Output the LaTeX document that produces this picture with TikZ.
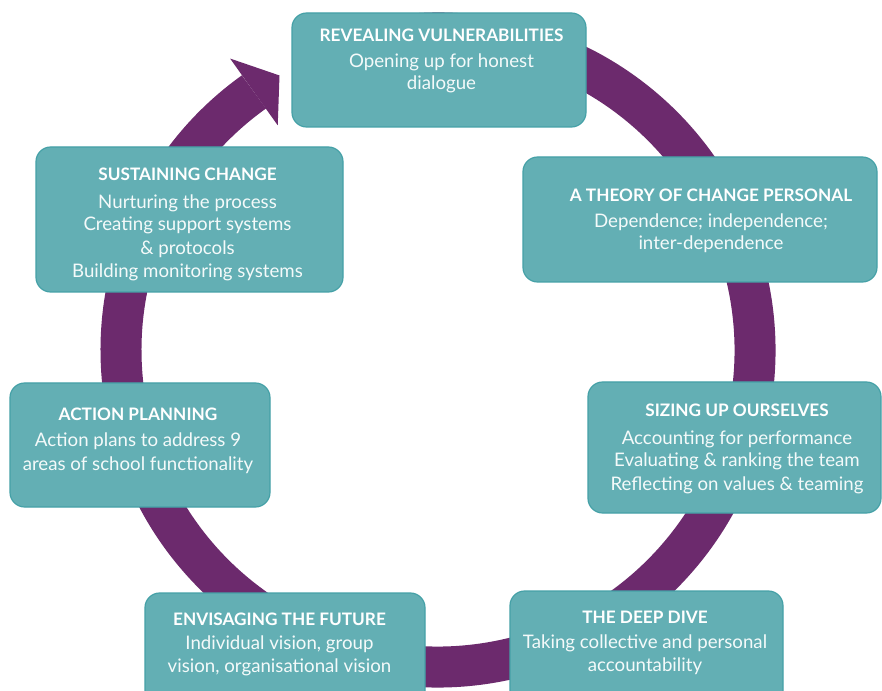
\documentclass[tikz,border=0pt]{standalone}
\usepackage{fontspec}
\setmainfont{Lato}
\usetikzlibrary{calc}
\definecolor{ringc}{HTML}{6C2A6D}
\definecolor{boxfill}{HTML}{63AFB4}
\definecolor{boxline}{HTML}{45A1A7}
\definecolor{txtc}{HTML}{F4FAFA}
\begin{document}
\begin{tikzpicture}[x=0.75pt,y=0.75pt,
  ring/.style={draw=ringc,line width=30.75pt},
  stagebox/.style 2 args={draw=boxline,fill=boxfill,line width=0.9pt,rounded corners=11pt,
    minimum width=#1*0.75pt,minimum height=#2*0.75pt,inner sep=0pt,outer sep=0pt},
  ttl/.style={font=\bfseries\fontsize{12.9}{15}\selectfont,text=white,anchor=base,inner sep=0pt},
  bdy/.style={font=\fontsize{14}{16}\selectfont,text=txtc,anchor=base,inner sep=0pt}]
\useasboundingbox (0,0) rectangle (882,690);
\clip (0,0) rectangle (882,690);
\fill[white] (0,0) rectangle (882,690);
% cycle ring
\coordinate (c) at (438,340);
\draw[ring] ([shift={(100:317)}]c) arc[start angle=100,end angle=-234.5,radius=317];
\fill[ringc] ([shift={(125.5:276)}]c) -- ([shift={(125.5:358)}]c) -- ([shift={(120:317)}]c) -- cycle;
% boxes
\node[stagebox={294}{114}] (b1) at (439,620) {};
\node[stagebox={354}{125}] (b2) at (700,470.5) {};
\node[stagebox={293}{131}] (b3) at (734.5,242.5) {};
\node[stagebox={273}{119}] (b4) at (646.5,39.5) {};
\node[stagebox={280}{117}] (b5) at (285,38.5) {};
\node[stagebox={260}{124}] (b6) at (140,245) {};
\node[stagebox={307}{145}] (b7) at (189.5,470.5) {};
% texts
\node[ttl] (t1) at (441.5,648.3) {REVEALING VULNERABILITIES};
\node[bdy] (t1a) at (441.5,622) {Opening up for honest};
\node[bdy] (t1b) at (441.5,600) {dialogue};
\node[ttl] (t2) at (711,488.3) {A THEORY OF CHANGE PERSONAL};
\node[bdy] (t2a) at (711,462.3) {Dependence; independence;};
\node[bdy] (t2b) at (711,440) {inter-dependence};
\node[ttl] (t3) at (737,273.3) {SIZING UP OURSELVES};
\node[bdy] (t3a) at (737,246) {Accounting for performance};
\node[bdy] (t3b) at (737,223.3) {Evaluating \& ranking the team};
\node[bdy] (t3c) at (737,200) {Reflecting on values \& teaming};
\node[ttl] (t4) at (645,66.7) {THE DEEP DIVE};
\node[bdy] (t4a) at (645,41.7) {Taking collective and personal};
\node[bdy] (t4b) at (645,18.3) {accountability};
\node[ttl] (t5) at (279.5,64.3) {ENVISAGING THE FUTURE};
\node[bdy] (t5a) at (279.5,41) {Individual vision, group};
\node[bdy] (t5b) at (279.5,17.3) {vision, organisational vision};
\node[ttl] (t6) at (138,270) {ACTION PLANNING};
\node[bdy] (t6a) at (138,243.3) {Action plans to address 9};
\node[bdy] (t6b) at (138,220) {areas of school functionality};
\node[ttl] (t7) at (187.5,509.3) {SUSTAINING CHANGE};
\node[bdy] (t7a) at (187.5,481.7) {Nurturing the process};
\node[bdy] (t7b) at (187.5,459) {Creating support systems};
\node[bdy] (t7c) at (187.5,435.7) {\& protocols};
\node[bdy] (t7d) at (187.5,412.3) {Building monitoring systems};
\end{tikzpicture}
\end{document}
